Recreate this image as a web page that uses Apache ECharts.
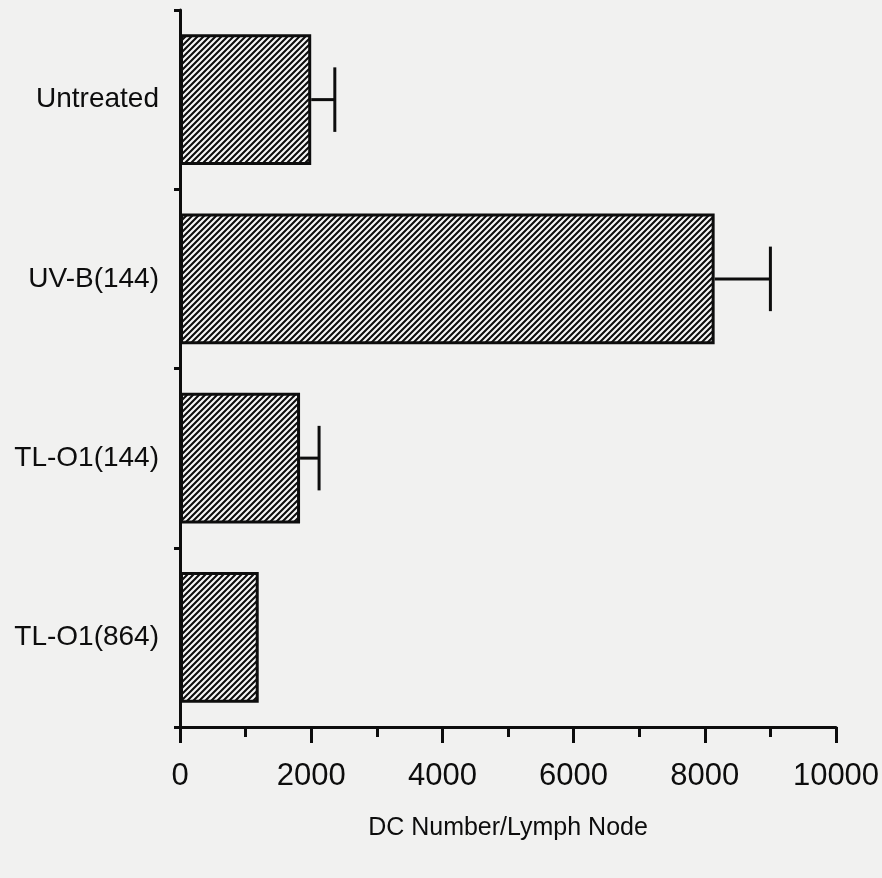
<!DOCTYPE html>
<html>
<head>
<meta charset="utf-8">
<script src="https://cdn.jsdelivr.net/npm/echarts@6/dist/echarts.min.js"></script>
<style>
  html, body { margin: 0; padding: 0; background: #f1f1f0; }
  #chart { width: 882px; height: 878px; }
</style>
</head>
<body>
<div id="chart"></div>
<script>
// Treatment groups, top to bottom
const categories = ['Untreated', 'UV-B(144)', 'TL-O1(144)', 'TL-O1(864)'];
// Mean DC count per lymph node
const means = [2000, 8150, 1830, 1200];
// Upper error (SEM); 0 = no whisker drawn
const errors = [360, 850, 290, 0];
// X axis range and labelled step
const xMin = 0;
const xMax = 10000;
const xStep = 2000;

const FONT = '"Liberation Sans Narrow", "Liberation Sans", Arial, sans-serif';
const INK = '#0d0d0d';

// Diagonal "/" hatch tile used as the bar fill
function hatchTile() {
  const s = 6;
  const c = document.createElement('canvas');
  c.width = s; c.height = s;
  const g = c.getContext('2d');
  g.fillStyle = '#f6f6f6';
  g.fillRect(0, 0, s, s);
  g.strokeStyle = INK;
  g.lineWidth = 2.1;
  g.beginPath();
  g.moveTo(-1, s + 1); g.lineTo(s + 1, -1);
  g.moveTo(-1, 1); g.lineTo(1, -1);
  g.moveTo(s - 1, s + 1); g.lineTo(s + 1, s - 1);
  g.stroke();
  return c;
}

const chart = echarts.init(document.getElementById('chart'), null, { renderer: 'canvas' });

chart.setOption({
  backgroundColor: '#f1f1f0',
  animation: false,
  grid: { left: 180, right: 46, top: 10, bottom: 151, containLabel: false, outerBoundsMode: 'none' },
  xAxis: {
    type: 'value',
    min: xMin,
    max: xMax,
    interval: xStep,
    name: 'DC Number/Lymph Node',
    nameLocation: 'middle',
    nameGap: 89,
    nameTextStyle: { fontFamily: FONT, fontSize: 25, color: INK },
    axisLine: { show: true, lineStyle: { color: INK, width: 3 } },
    axisTick: { show: true, length: 16, lineStyle: { color: INK, width: 3 } },
    minorTick: { show: true, splitNumber: 2, length: 10, lineStyle: { color: INK, width: 3 } },
    axisLabel: {
      margin: 34, fontFamily: FONT, fontSize: 31, color: INK,
      formatter: function (v) { return String(v); }
    },
    splitLine: { show: false }
  },
  yAxis: {
    type: 'category',
    inverse: true,
    data: categories,
    axisLine: { show: true, lineStyle: { color: INK, width: 3 } },
    axisTick: { show: true, length: 6, lineStyle: { color: INK, width: 3 } },
    axisLabel: { margin: 21, fontFamily: FONT, fontSize: 28, color: INK }
  },
  series: [
    {
      type: 'bar',
      data: means,
      barCategoryGap: '27%',
      itemStyle: {
        color: { image: hatchTile(), repeat: 'repeat' },
        borderColor: INK,
        borderWidth: 3
      },
      z: 2
    },
    {
      type: 'custom',
      data: categories.map((c, i) => [i, means[i], errors[i]]),
      encode: { y: 0, x: [1, 2] },
      z: 3,
      renderItem: function (params, api) {
        const i = api.value(0);
        const m = api.value(1);
        const e = api.value(2);
        if (!e) return null;
        const p0 = api.coord([m, i]);
        const p1 = api.coord([m + e, i]);
        const cap = api.size([0, 1])[1] * 0.36;
        const style = { stroke: INK, lineWidth: 3 };
        return {
          type: 'group',
          children: [
            { type: 'line', shape: { x1: p0[0], y1: p0[1], x2: p1[0], y2: p1[1] }, style: style },
            { type: 'line', shape: { x1: p1[0], y1: p1[1] - cap / 2, x2: p1[0], y2: p1[1] + cap / 2 }, style: style }
          ]
        };
      }
    }
  ]
});
</script>
</body>
</html>
